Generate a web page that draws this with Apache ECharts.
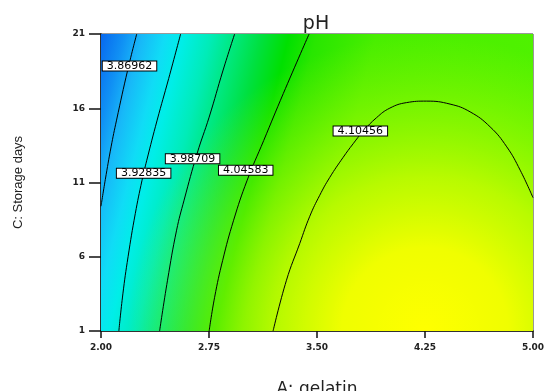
<!DOCTYPE html>
<html>
<head>
<meta charset="utf-8">
<script src="https://cdn.jsdelivr.net/npm/echarts@6/dist/echarts.min.js"></script>
<style>
  html, body { margin: 0; padding: 0; background: #fff; }
  #chart { width: 545px; height: 391px; }
</style>
</head>
<body>
<div id="chart"></div>
<script>
// axis ranges (A: gelatin, C: storage days)
const gelatinRange = [2, 5]
const daysRange = [1, 21]

// contour levels and where their labels sit
const contourLevels = [3.86962, 3.92835, 3.98709, 4.04583, 4.10456]
const labelPos = [[2.198, 18.84], [2.296, 11.63], [2.636, 12.6], [3.005, 11.83], [3.801, 14.46]]

// contour lines, [gelatin, days]
const contour1 = [[2.248, 21], [2.186, 18.6], [2.108, 15.2], [2.07, 13.4], [2.03, 11.2], [2.0, 9.4]]
const contour2 = [[2.553, 21], [2.47, 18], [2.39, 15.2], [2.318, 12.5], [2.285, 11.15], [2.238, 8.9], [2.188, 6.0], [2.152, 3.5], [2.124, 1]]
const contour3 = [[2.928, 21], [2.848, 18.57], [2.751, 15.4], [2.668, 12.97], [2.577, 9.81], [2.525, 7.79], [2.462, 4.42], [2.407, 1]]
const contour4 = [[3.445, 21], [3.266, 16.99], [3.13, 13.83], [3.015, 11.15], [2.921, 8.46], [2.845, 5.76], [2.789, 3.27], [2.751, 1]]
const contour5 = [[3.195, 1], [3.288, 4.42], [3.38, 6.89], [3.45, 8.73], [3.519, 10.14], [3.589, 11.35], [3.682, 12.7],
  [3.751, 13.61], [3.821, 14.46], [3.914, 15.37], [4.006, 16.01], [4.122, 16.38], [4.261, 16.48], [4.424, 16.28],
  [4.563, 15.76], [4.702, 14.75], [4.818, 13.4], [4.911, 11.83], [5.0, 9.98]]
const contours = [contour1, contour2, contour3, contour4, contour5]

const chart = echarts.init(document.getElementById('chart'))

// colour field of the response surface (blue -> cyan -> green -> yellow)
const baseFill = new echarts.graphic.LinearGradient(0, 0, 1, 0.366, [
  { offset: 0, color: '#0868ee' },
  { offset: 0.05, color: '#1090f4' },
  { offset: 0.09, color: '#18b8f8' },
  { offset: 0.14, color: '#10dcf6' },
  { offset: 0.18, color: '#00eee8' },
  { offset: 0.24, color: '#00ecb8' },
  { offset: 0.29, color: '#00e880' },
  { offset: 0.35, color: '#00e040' },
  { offset: 0.41, color: '#00e000' },
  { offset: 0.47, color: '#28e600' },
  { offset: 0.6, color: '#48ee00' },
  { offset: 1, color: '#50f200' }
])
const yellowFill = new echarts.graphic.RadialGradient(0.75, 1.0, 1.0, [
  { offset: 0, color: 'rgba(255,255,0,1)' },
  { offset: 0.28, color: 'rgba(250,255,0,0.94)' },
  { offset: 0.52, color: 'rgba(230,255,0,0.7)' },
  { offset: 0.78, color: 'rgba(200,255,0,0.32)' },
  { offset: 1, color: 'rgba(180,250,0,0)' }
])

const lineSeries = contours.map((pts, i) => ({
  name: String(contourLevels[i]),
  type: 'line',
  data: pts,
  symbol: 'none',
  smooth: 0.45,
  silent: true,
  z: 3,
  lineStyle: { color: '#000', width: 1 }
}))

chart.setOption({
  backgroundColor: '#fff',
  animation: false,
  title: {
    text: 'pH',
    left: 311,
    top: 10,
    textAlign: 'center',
    textStyle: { fontFamily: 'DejaVu Sans', fontSize: 19, fontWeight: 'normal', color: '#222' }
  },
  grid: {
    left: 101,
    right: 12,
    top: 34,
    bottom: 60,
    outerBoundsMode: 'none',
    containLabel: false,
    show: true,
    borderColor: '#333',
    borderWidth: 1,
    backgroundColor: 'transparent'
  },
  xAxis: {
    type: 'value',
    min: gelatinRange[0],
    max: gelatinRange[1],
    interval: 0.75,
    name: 'A: gelatin',
    nameLocation: 'middle',
    nameGap: 50,
    nameTextStyle: { fontFamily: 'DejaVu Sans', fontSize: 17, color: '#222' },
    axisLine: { lineStyle: { color: '#111', width: 1.5 } },
    axisTick: { length: 7, lineStyle: { color: '#111', width: 1.5 } },
    axisLabel: {
      margin: 12,
      formatter: v => v.toFixed(2),
      fontFamily: 'DejaVu Sans',
      fontWeight: 'bold',
      fontSize: 9,
      color: '#222'
    },
    splitLine: { show: false }
  },
  yAxis: {
    type: 'value',
    min: daysRange[0],
    max: daysRange[1],
    interval: 5,
    name: 'C: Storage days',
    nameLocation: 'middle',
    nameGap: 76,
    nameTextStyle: { fontFamily: 'Liberation Sans', fontSize: 13, color: '#222' },
    axisLine: { lineStyle: { color: '#111', width: 1.5 } },
    axisTick: { length: 12, lineStyle: { color: '#111', width: 1.5 } },
    axisLabel: {
      margin: 16,
      fontFamily: 'DejaVu Sans',
      fontWeight: 'bold',
      fontSize: 9,
      color: '#222'
    },
    splitLine: { show: false }
  },
  series: [
    ...lineSeries,
    {
      name: 'labels',
      type: 'scatter',
      silent: true,
      z: 5,
      symbolSize: 0,
      itemStyle: { color: 'rgba(0,0,0,0)', opacity: 1 },
      data: labelPos.map((p, i) => ({ value: p, level: contourLevels[i] })),
      label: {
        show: true,
        position: 'inside',
        formatter: p => p.data.level.toFixed(5),
        fontFamily: 'DejaVu Sans',
        fontSize: 11,
        lineHeight: 9,
        color: '#000',
        backgroundColor: '#fff',
        borderColor: '#000',
        borderWidth: 1,
        padding: [0, 4, 0, 4]
      },
      markArea: {
        silent: true,
        label: { show: false },
        data: [
          [{ coord: [gelatinRange[0], daysRange[0]], itemStyle: { color: baseFill, opacity: 1 } },
           { coord: [gelatinRange[1], daysRange[1]] }],
          [{ coord: [gelatinRange[0], daysRange[0]], itemStyle: { color: yellowFill, opacity: 1 } },
           { coord: [gelatinRange[1], daysRange[1]] }]
        ]
      }
    }
  ]
})
</script>
</body>
</html>
